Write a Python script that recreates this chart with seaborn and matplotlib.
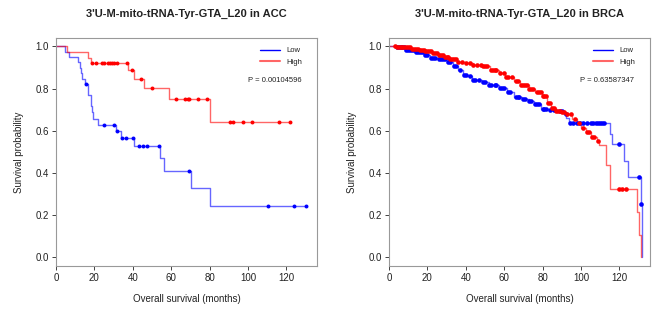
import numpy as np
import pandas as pd
import seaborn as sns
import matplotlib.pyplot as plt
from matplotlib.lines import Line2D

# ---- data (Kaplan-Meier steps + censor times) ----
gene = "3'U-M-mito-tRNA-Tyr-GTA_L20"

# ACC
acc_low_t = [0, 4.7, 6.8, 11.6, 12.5, 13.2, 13.6, 15.0, 16.4, 18.0, 18.5, 19.4, 22.0,
             31.5, 33.6, 40.5, 54.3, 56.5, 70.4, 80.4, 130.4]
acc_low_s = [1.0, 0.974, 0.95, 0.924, 0.898, 0.872, 0.846, 0.82, 0.768, 0.717, 0.69, 0.656, 0.628,
             0.598, 0.567, 0.53, 0.471, 0.41, 0.328, 0.246, 0.246]
acc_low_cens = [15.6, 25.1, 30.0, 32.0, 34.6, 36.5, 40.0, 43.4, 45.5, 47.6, 53.4, 69.5,
                110.7, 124.0, 130.4]

acc_high_t = [0, 5.5, 16.8, 18.2, 37.5, 40.5, 45.6, 59.1, 80.2, 121.9]
acc_high_s = [1.0, 0.973, 0.946, 0.92, 0.886, 0.847, 0.804, 0.753, 0.642, 0.642]
acc_high_cens = [18.9, 20.6, 24.2, 25.1, 27.2, 28.1, 29.2, 30.3, 32.0, 37.0, 39.8, 44.5, 50.1,
                 62.6, 67.4, 68.8, 69.5, 74.2, 78.7, 90.6, 92.0, 97.2, 102.0, 116.2, 121.9]
acc_p = "P = 0.00104596"

# BRCA
brca_low_t = [0, 3.8, 8.2, 13.4, 18.7, 21.3, 25.7, 30.9, 33.5, 36.2, 38.8, 41.4, 43.1, 48.4,
              51.9, 57.1, 61.5, 65.0, 69.3, 72.8, 75.5, 79.0, 83.3, 88.6, 91.2, 92.4, 93.8,
              115.1, 116.2, 122.3, 124.4, 131.4, 131.9]
brca_low_s = [1.0, 0.995, 0.981, 0.973, 0.96, 0.944, 0.941, 0.925, 0.909, 0.89, 0.865, 0.859,
              0.841, 0.83, 0.817, 0.801, 0.782, 0.758, 0.75, 0.742, 0.726, 0.703, 0.698, 0.695,
              0.679, 0.663, 0.639, 0.583, 0.536, 0.456, 0.382, 0.254, 0.0]
brca_low_cens = [4, 5, 6, 7, 8, 9, 10, 11, 12, 13, 14, 15, 16, 17, 18, 19, 20, 22, 23, 24, 26,
                 27, 28, 29, 31, 32, 34, 35, 37, 39, 40, 42, 44, 45, 47, 49, 50, 52, 53, 55, 56,
                 58, 59, 60, 62, 63, 66, 67, 68, 70, 71, 73, 74, 76, 77, 78, 80, 81, 82, 84,
                 86, 89, 90, 92, 94.5, 96, 98, 99.5, 101, 103, 105, 106.5, 108, 109, 110, 111,
                 112, 119.7, 130.5, 131.4]

brca_high_t = [0, 4.0, 8.0, 11.7, 15.2, 18.7, 22.2, 25.7, 28.3, 31.8, 35.3, 39.7, 44.0, 48.4,
               52.8, 57.1, 60.6, 65.0, 68.5, 72.8, 76.3, 79.8, 82.4, 84.2, 86.8, 89.4, 92.1,
               95.5, 98.2, 99.9, 102.5, 105.2, 108.6, 109.5, 113.0, 115.1, 129.1, 130.5, 131.5]
brca_high_s = [1.0, 0.998, 0.995, 0.989, 0.981, 0.976, 0.97, 0.96, 0.949, 0.938, 0.928, 0.92,
               0.914, 0.906, 0.89, 0.874, 0.854, 0.838, 0.817, 0.798, 0.782, 0.766, 0.734,
               0.706, 0.695, 0.687, 0.679, 0.658, 0.636, 0.615, 0.595, 0.572, 0.552, 0.531,
               0.436, 0.324, 0.215, 0.107, 0.0]
brca_high_cens = [3, 4, 5, 6, 7, 8, 9, 10, 11, 12, 13, 14, 15, 16, 17, 18, 19, 20, 21, 22, 23,
                  24, 25, 26, 27, 28, 29, 30, 31, 32, 33, 34, 35, 36, 38, 40, 42, 44, 46, 48,
                  49, 50, 51, 53, 54, 55, 56, 58, 60, 61, 62, 64, 66, 67, 69, 70, 71, 72, 73,
                  74, 75, 77, 78, 79, 80, 81, 82, 83, 84, 85, 86, 87, 88, 89, 90, 91, 93, 95,
                  97, 99, 101, 103, 104, 106, 107, 109, 119.7, 121.4, 123.5]
brca_p = "P = 0.63587347"

panels = [
    ("ACC", acc_low_t, acc_low_s, acc_low_cens, acc_high_t, acc_high_s, acc_high_cens, acc_p, 8),
    ("BRCA", brca_low_t, brca_low_s, brca_low_cens, brca_high_t, brca_high_s, brca_high_cens, brca_p, 11),
]

sns.set_style("white")
plt.rcParams['font.family'] = ['Liberation Sans', 'DejaVu Sans']
txt = "#222222"

fig = plt.figure(figsize=(6.53, 3.2), dpi=100)
lefts = [0.0858, 0.5957]

for (name, lt, ls, lc, ht, hs, hc, ptxt, msize), left in zip(panels, lefts):
    ax = fig.add_axes([left, 0.169, 0.3997, 0.7125])
    for t, s, c, col in [(lt, ls, lc, "#0000FF"), (ht, hs, hc, "#FF0000")]:
        d = pd.DataFrame({"t": t, "s": s})
        sns.lineplot(data=d, x="t", y="s", ax=ax, color=col, alpha=0.6, lw=1.0,
                     drawstyle="steps-post", estimator=None, sort=False)
        # censor marks sit on the step curve at their time
        idx = np.searchsorted(np.array(t), np.array(c), side="right") - 1
        dc = pd.DataFrame({"t": c, "s": np.array(s)[idx]})
        sns.scatterplot(data=dc, x="t", y="s", ax=ax, color=col, s=msize, marker="o",
                        linewidth=0, zorder=3)
    ax.set_xlim(0, 136)
    ax.set_ylim(-0.04, 1.04)
    ax.set_xticks(range(0, 121, 20))
    ax.set_yticks(np.arange(0, 1.01, 0.2))
    ax.set_yticklabels([f"{v:.1f}" for v in np.arange(0, 1.01, 0.2)])
    ax.tick_params(labelsize=7, colors=txt, length=3, width=0.6, left=True, bottom=True,
                   pad=2)
    for sp in ax.spines.values():
        sp.set_color("#999999")
        sp.set_linewidth(0.8)
    ax.set_xlabel("Overall survival (months)", fontsize=7, color=txt, labelpad=8)
    ax.set_ylabel("Survival probability", fontsize=7, color=txt, labelpad=8)
    ax.set_title(f"{gene} in {name}", fontsize=8, fontweight="bold", color=txt, pad=15)
    handles = [Line2D([], [], color="#0000FF", lw=1), Line2D([], [], color="#FF6666", lw=1.5)]
    ax.legend(handles, ["Low", "High"], loc="upper right", frameon=False, fontsize=5.5,
              handlelength=2.6, labelspacing=0.5, bbox_to_anchor=(0.97, 0.99),
              labelcolor=txt)
    ax.text(0.94, 0.815, ptxt, transform=ax.transAxes, ha="right", va="center",
            fontsize=5.5, color=txt)

fig.savefig("out.png", dpi=100)
